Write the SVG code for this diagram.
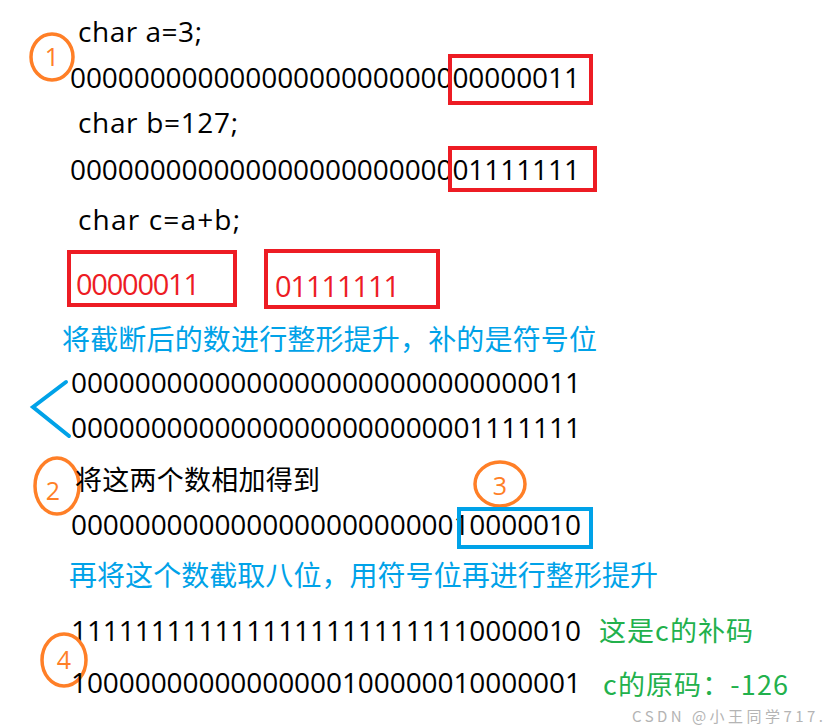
<svg xmlns="http://www.w3.org/2000/svg" width="838" height="728" viewBox="0 0 838 728">
<style>
.bin{font-family:"Open Sans","Liberation Sans",sans-serif;font-size:28px;fill:#000}
.code{font-family:"Open Sans","Liberation Sans",sans-serif;font-size:28px;fill:#000}
.red{font-family:"Open Sans","Liberation Sans",sans-serif;font-size:29px;fill:#ed1c24}
.cjk{font-family:"Noto Sans CJK SC","Noto Sans",sans-serif;font-size:28px}
.blue{fill:#00a2e8}
.green{fill:#22b14c}
.black{fill:#000}
.rbox{fill:none;stroke:#ed1c24;stroke-width:4}
.bbox{fill:none;stroke:#00a2e8;stroke-width:4}
.circ{fill:none;stroke:#ff7f27;stroke-width:3.5}
.num{font-family:"Open Sans","Liberation Sans",sans-serif;font-size:25px;fill:#ff7f27;text-anchor:middle}
.wm{font-family:"Noto Sans CJK SC","Liberation Sans",sans-serif;font-size:15px;fill:#b4b4b4}
</style>
<rect width="838" height="728" fill="#fff"/>

<g id="decl-a"><text class="code" x="78" y="42" textLength="124" lengthAdjust="spacing">char a=3;</text></g>
<g id="badge-1"><ellipse class="circ" cx="52" cy="57" rx="21" ry="23"/><text class="num" x="52" y="66">1</text></g>
<g id="bits-a"><text class="bin" x="70" y="88" textLength="510" lengthAdjust="spacing">00000000000000000000000000000011</text><rect class="rbox" x="450" y="56" width="141" height="47"/></g>

<g id="decl-b"><text class="code" x="78" y="133" textLength="160" lengthAdjust="spacing">char b=127;</text></g>
<g id="bits-b"><text class="bin" x="70" y="180" textLength="510" lengthAdjust="spacing">00000000000000000000000001111111</text><rect class="rbox" x="450" y="148" width="145" height="42"/></g>

<g id="decl-c"><text class="code" x="78" y="230" textLength="162" lengthAdjust="spacing">char c=a+b;</text></g>
<g id="trunc-a"><rect class="rbox" x="69" y="252" width="166" height="53"/><text class="red" x="76" y="295" textLength="124" lengthAdjust="spacing">00000011</text></g>
<g id="trunc-b"><rect class="rbox" x="266" y="251" width="172" height="56"/><text class="red" x="275" y="297" textLength="125" lengthAdjust="spacing">01111111</text></g>

<g id="note-promote"><text class="cjk blue" x="62" y="350" textLength="535" lengthAdjust="spacing">将截断后的数进行整形提升，补的是符号位</text></g>
<g id="promoted-a"><text class="bin" x="71" y="393" textLength="510" lengthAdjust="spacing">00000000000000000000000000000011</text></g>
<g id="promoted-b"><text class="bin" x="71" y="438" textLength="510" lengthAdjust="spacing">00000000000000000000000001111111</text></g>

<g id="connectors"><polyline points="66,382 33,407 69,436" fill="none" stroke="#00a2e8" stroke-width="4" stroke-linecap="round" stroke-linejoin="miter"/></g>

<g id="badge-2"><ellipse class="circ" cx="57" cy="486" rx="22" ry="28"/><text class="num" x="53" y="500">2</text></g>
<g id="note-add"><text class="cjk black" x="75" y="490" style="font-size:27px" textLength="245" lengthAdjust="spacing">将这两个数相加得到</text></g>
<g id="badge-3"><ellipse class="circ" cx="500" cy="484" rx="25" ry="22"/><text class="num" x="500" y="495">3</text></g>
<g id="sum"><text class="bin" x="71" y="535" textLength="510" lengthAdjust="spacing">00000000000000000000000010000010</text><rect class="bbox" x="459" y="509" width="132" height="38"/></g>

<g id="note-truncate"><text class="cjk blue" x="69" y="586" textLength="589" lengthAdjust="spacing">再将这个数截取八位，用符号位再进行整形提升</text></g>
<g id="complement"><text class="bin" x="71" y="641" textLength="510" lengthAdjust="spacing">11111111111111111111111110000010</text></g>
<g id="note-complement"><text class="cjk green" x="599" y="641" style="font-size:27px" textLength="154" lengthAdjust="spacing">这是c的补码</text></g>
<g id="badge-4"><ellipse class="circ" cx="64" cy="660" rx="22" ry="26"/><text class="num" x="64" y="669">4</text></g>
<g id="original"><text class="bin" x="71" y="693" textLength="510" lengthAdjust="spacing">10000000000000000100000010000001</text></g>
<g id="note-original"><text class="cjk green" x="603" y="695" style="font-size:27px" textLength="185" lengthAdjust="spacing">c的原码：-126</text></g>

<g id="watermark"><text class="wm" x="632" y="722" textLength="191" lengthAdjust="spacing">CSDN @小王同学717.</text></g>
</svg>
